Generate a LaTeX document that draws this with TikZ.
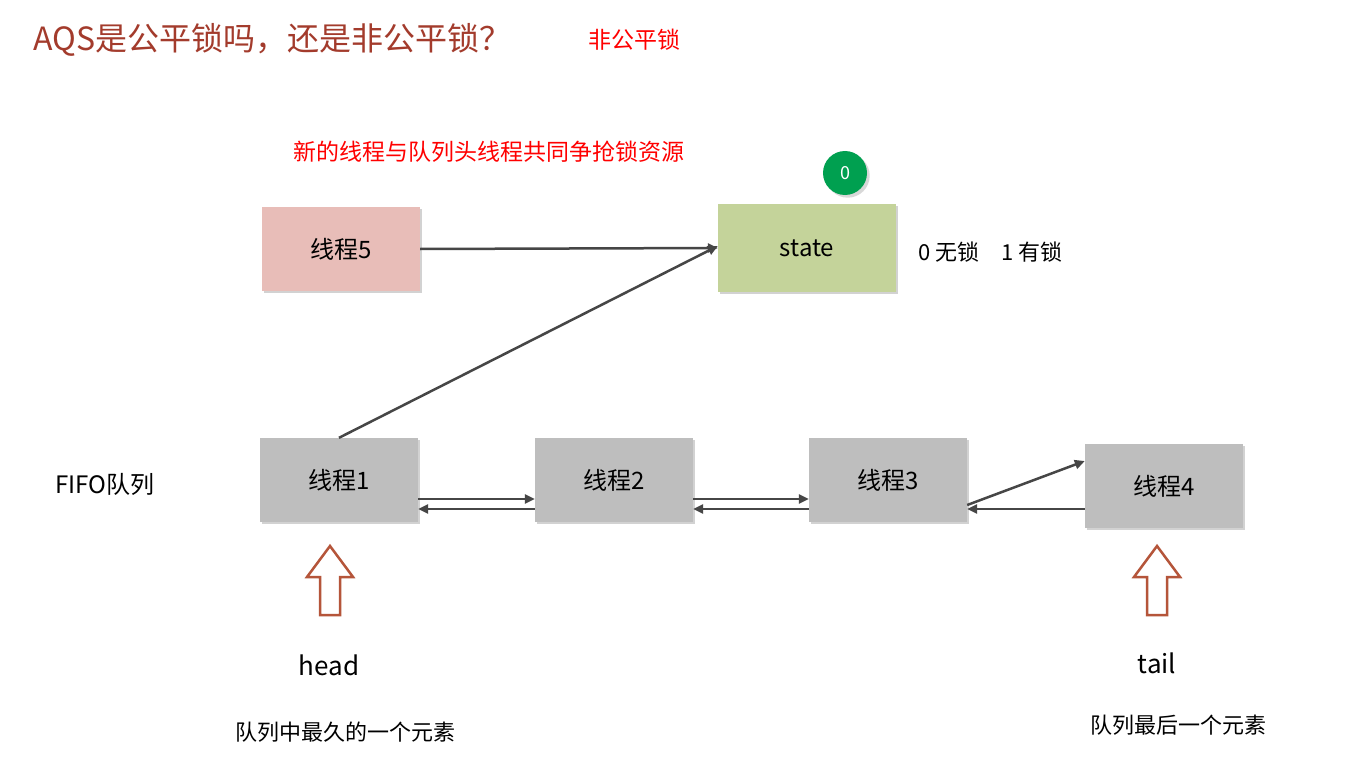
\documentclass[tikz,border=0pt]{standalone}
\usepackage{fontspec}
\setmainfont{Noto Sans CJK SC}
\usetikzlibrary{shadows,arrows.meta}
\definecolor{titred}{HTML}{A33B2C}
\definecolor{gbox}{HTML}{BEBEBE}
\definecolor{pbox}{HTML}{E8BDB8}
\definecolor{sbox}{HTML}{C4D39A}
\definecolor{dot}{HTML}{00A050}
\definecolor{harr}{HTML}{B5553A}
\begin{document}
\begin{tikzpicture}[x=1pt,y=-1pt,
 box/.style={draw=none,minimum width=158pt,minimum height=84pt,font=\fontsize{24}{28}\selectfont,drop shadow={shadow xshift=2pt,shadow yshift=-2pt,opacity=.35}},
 con/.style={draw={rgb,255:red,70;green,70;blue,70},line width=2.5pt,-{Triangle[length=10pt,width=9pt]}},
 lbl/.style={font=\fontsize{24}{28}\selectfont,anchor=center},
 harrow/.style={draw=harr,line width=2.5pt,fill=white}]
\useasboundingbox (0,0) rectangle (1371,781);
\fill[white] (0,0) rectangle (1371,781);
\node[anchor=west,text=titred,font=\fontsize{32}{36}\selectfont] (title) at (30,40) {AQS是公平锁吗，还是非公平锁？};
\node[anchor=west,text=red,font=\fontsize{23}{26}\selectfont] (ans) at (585,40) {非公平锁};
\node[anchor=west,text=red,font=\fontsize{23}{26}\selectfont] (note) at (290,152) {新的线程与队列头线程共同争抢锁资源};
\node[box,fill=pbox] (t5) at (341,249) {线程5};
\node[box,fill=sbox,minimum width=178pt,minimum height=88pt] (st) at (807,248) {state};
\node[circle,fill=dot,minimum size=44pt,text=white,font=\fontsize{18}{20}\selectfont,drop shadow={opacity=.3}] (z) at (845,173) {0};
\node[anchor=west,font=\fontsize{22}{26}\selectfont] (leg) at (915,252) {0 无锁\quad 1 有锁};
\node[box,fill=gbox] (t1) at (339,480) {线程1};
\node[box,fill=gbox] (t2) at (614,480) {线程2};
\node[box,fill=gbox] (t3) at (888,480) {线程3};
\node[box,fill=gbox] (t4) at (1164,486) {线程4};
\draw[con] (t5.east) -- (st.west);
\draw[con] (t1.north) -- ([yshift=2pt]st.west);
\draw[con] ([yshift=-19pt]t1.east) -- ([yshift=-19pt]t2.west);
\draw[con] ([yshift=-29pt]t2.west) -- ([yshift=-29pt]t1.east);
\draw[con] ([yshift=-19pt]t2.east) -- ([yshift=-19pt]t3.west);
\draw[con] ([yshift=-29pt]t3.west) -- ([yshift=-29pt]t2.east);
\draw[con] ([yshift=-25pt]t3.east) -- (t4.west |- 0,461);
\draw[con] (t4.west |- 0,509) -- ([yshift=-29pt]t3.east);
\draw[harrow] (330,546) -- (353,577) -- (340,577) -- (340,615) -- (320,615) -- (320,577) -- (307,577) -- cycle;
\draw[harrow] (1157,546) -- (1180,577) -- (1167,577) -- (1167,615) -- (1147,615) -- (1147,577) -- (1134,577) -- cycle;
\node[lbl] (fifo) at (105,484) {FIFO队列};
\node[lbl,font=\fontsize{26}{30}\selectfont] (head) at (329,665) {head};
\node[lbl,font=\fontsize{26}{30}\selectfont] (tail) at (1157,663) {tail};
\node[lbl,font=\fontsize{22}{26}\selectfont] (hd) at (345,732) {队列中最久的一个元素};
\node[lbl,font=\fontsize{22}{26}\selectfont] (td) at (1178,725) {队列最后一个元素};
\end{tikzpicture}
\end{document}
